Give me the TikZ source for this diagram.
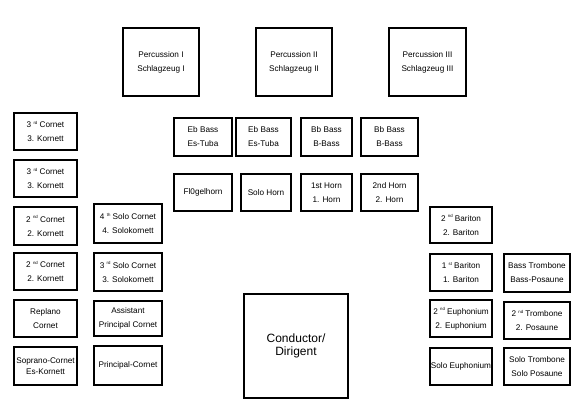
\documentclass[tikz,border=0pt]{standalone}
\usepackage{fontspec}
\setmainfont{Liberation Sans}
\newcommand\supx[1]{\raisebox{0.85ex}{\fontsize{4.3}{5}\selectfont #1}}
\tikzset{
  box/.style={draw=black, line width=2.6pt, fill=white, align=center,
    inner sep=0pt, font=\fontsize{8.2}{14}\selectfont},
  tight/.style={font=\fontsize{8.2}{11}\selectfont},
  big/.style={font=\fontsize{12}{13}\selectfont},
}
\begin{document}
\begin{tikzpicture}[x=1pt,y=-1pt]
\useasboundingbox (0,0) rectangle (576,407);
% percussion
\node[box, minimum width=76, minimum height=68] (p1) at (161,62) {Percussion I\\Schlagzeug I};
\node[box, minimum width=76, minimum height=68] (p2) at (294,62) {Percussion II\\Schlagzeug II};
\node[box, minimum width=77, minimum height=68] (p3) at (427.5,62) {Percussion III\\Schlagzeug III};
% left column
\node[box, minimum width=63, minimum height=37] (l1) at (45.5,131.5) {3 \supx{rd} Cornet\\3. Kornett};
\node[box, minimum width=63, minimum height=37] (l2) at (45.5,178.5) {3 \supx{rd} Cornet\\3. Kornett};
\node[box, minimum width=63, minimum height=38] (l3) at (45.5,226) {2 \supx{nd} Cornet\\2. Kornett};
\node[box, minimum width=63, minimum height=37] (l4) at (45.5,271.5) {2 \supx{nd} Cornet\\2. Kornett};
\node[box, minimum width=63, minimum height=37] (l5) at (45.5,318.5) {Replano\\Cornet};
\node[box, minimum width=63, minimum height=38, tight] (l6) at (45.5,366) {Soprano-Cornet\\Es-Kornett};
% second column
\node[box, minimum width=68, minimum height=39] (c1) at (128,223.5) {4 \supx{th} Solo Cornet\\4. Solokornett};
\node[box, minimum width=68, minimum height=38] (c2) at (128,272) {3 \supx{rd} Solo Cornet\\3. Solokornett};
\node[box, minimum width=68, minimum height=35] (c3) at (128,318.5) {Assistant\\Principal Cornet};
\node[box, minimum width=68, minimum height=39] (c4) at (128,365.5) {Principal-Cornet};
% basses
\node[box, minimum width=58, minimum height=38] (b1) at (203,137) {Eb Bass\\Es-Tuba};
\node[box, minimum width=55, minimum height=38] (b2) at (263.5,137) {Eb Bass\\Es-Tuba};
\node[box, minimum width=51, minimum height=38] (b3) at (326.5,137) {Bb Bass\\B-Bass};
\node[box, minimum width=57, minimum height=38] (b4) at (389.5,137) {Bb Bass\\B-Bass};
% horns
\node[box, minimum width=58, minimum height=37] (h1) at (203,192.5) {Fl0gelhorn};
\node[box, minimum width=50, minimum height=37] (h2) at (266,192.5) {Solo Horn};
\node[box, minimum width=51, minimum height=37] (h3) at (326.5,192.5) {1st Horn\\1. Horn};
\node[box, minimum width=57, minimum height=37] (h4) at (389.5,192.5) {2nd Horn\\2. Horn};
% right columns
\node[box, minimum width=62, minimum height=36] (r1) at (461,225) {2 \supx{nd} Bariton\\2. Bariton};
\node[box, minimum width=62, minimum height=37] (r2) at (461,272.5) {1 \supx{st} Bariton\\1. Bariton};
\node[box, minimum width=62, minimum height=37] (r3) at (461,318.5) {2 \supx{nd} Euphonium\\2. Euphonium};
\node[box, minimum width=62, minimum height=37] (r4) at (461,366.5) {Solo Euphonium};
\node[box, minimum width=66, minimum height=38] (t1) at (537,273) {Bass Trombone\\Bass-Posaune};
\node[box, minimum width=66, minimum height=37] (t2) at (537,320.5) {2 \supx{nd} Trombone\\2. Posaune};
\node[box, minimum width=66, minimum height=37] (t3) at (537,366.5) {Solo Trombone\\Solo Posaune};
% conductor
\node[box, big, minimum width=104, minimum height=104] (cond) at (296,346) {\raisebox{-2pt}{Conductor/}\\\raisebox{-2pt}{Dirigent}};
\end{tikzpicture}
\end{document}
